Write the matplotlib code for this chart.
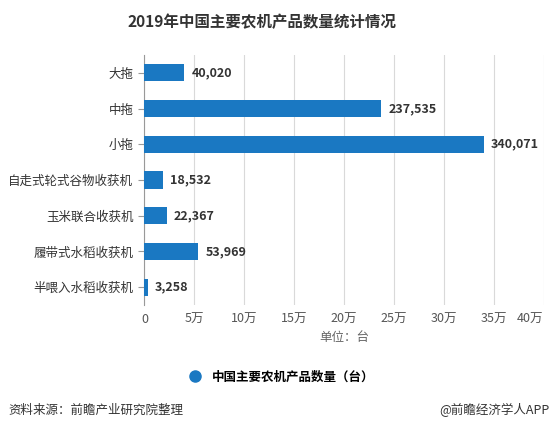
import matplotlib
matplotlib.use("Agg")
import matplotlib.pyplot as plt
from matplotlib.lines import Line2D

plt.rcParams['font.family'] = ['Noto Sans CJK SC', 'DejaVu Sans']

categories = ['大拖', '中拖', '小拖', '自走式轮式谷物收获机', '玉米联合收获机', '履带式水稻收获机', '半喂入水稻收获机']
values = [40020, 237535, 340071, 18532, 22367, 53969, 3258]
xticks = [0, 50000, 100000, 150000, 200000, 250000, 300000, 350000, 400000]
xticklabels = ['0', '5万', '10万', '15万', '20万', '25万', '30万', '35万', '40万']
title = '2019年中国主要农机产品数量统计情况'
series_name = '中国主要农机产品数量（台）'
unit_label = '单位：台'
source = '资料来源：前瞻产业研究院整理'
brand = '@前瞻经济学人APP'

bar_color = '#1a78c2'

fig = plt.figure(figsize=(5.57, 4.30), dpi=100)
ax = fig.add_axes([144.5/557, 1-305/430, 399/557, 250/430])

ypos = list(range(len(categories)))
ax.barh(ypos, values, height=0.48, color=bar_color, zorder=3)
ax.set_ylim(len(categories)-0.5, -0.5)
ax.set_xlim(0, 400000)
ax.set_yticks(ypos)
ax.set_yticklabels(categories, fontsize=9, color='#333333')
ax.set_xticks(xticks)
lbls = ax.set_xticklabels(xticklabels, fontsize=9, color='#555555')
lbls[-1].set_horizontalalignment('right')
ax.xaxis.grid(True, color='#d9d9d9', linewidth=0.8, zorder=0)
ax.tick_params(axis='x', length=0, pad=6)
ax.tick_params(axis='y', length=4, color='#999999', pad=4)
for s in ['top', 'right', 'bottom']:
    ax.spines[s].set_visible(False)
ax.spines['left'].set_color('#999999')

for y, v in zip(ypos, values):
    ax.annotate(f'{v:,}', xy=(v, y), xytext=(5, 0), textcoords='offset points',
                va='center', ha='left', fontsize=9, fontweight='bold',
                color='#333333', zorder=4)

fig.text(262/557, 1-22/430, title, ha='center', va='center', fontsize=11.2,
         fontweight='bold', color='#333333')
fig.text(344/557, 1-338/430, unit_label, ha='center', va='center',
         fontsize=9, color='#666666')

handle = Line2D([], [], marker='o', linestyle='none', markersize=8,
                markerfacecolor=bar_color, markeredgecolor=bar_color)
fig.legend([handle], [series_name], loc='center', bbox_to_anchor=(0.5, 1-377/430),
           frameon=False, prop={'size': 9, 'weight': 'bold'}, handletextpad=0.4)

fig.text(8/557, 1-410/430, source, ha='left', va='center', fontsize=9, color='#333333')
fig.text(549/557, 1-410/430, brand, ha='right', va='center', fontsize=9, color='#333333')

fig.savefig('out.png', dpi=100)
